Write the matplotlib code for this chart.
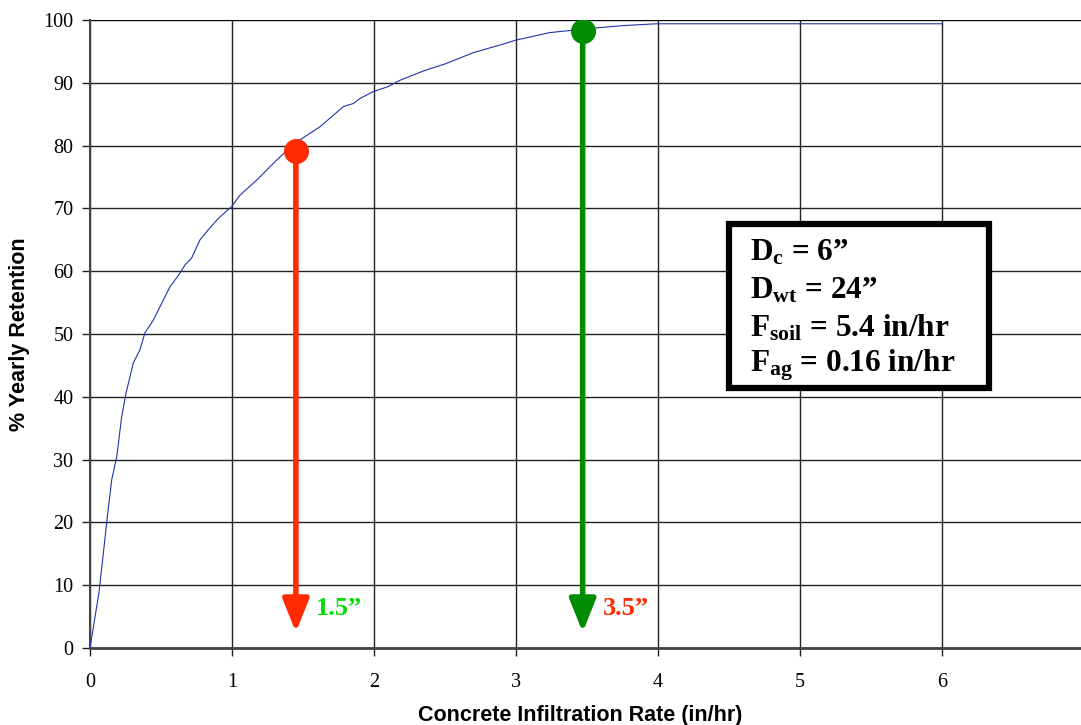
import matplotlib
matplotlib.use("Agg")
import matplotlib.pyplot as plt
from matplotlib.patches import Rectangle

# curve (x = infiltration rate in/hr, y = % retention)
rate = [0, 0.035, 0.063, 0.094, 0.122, 0.153, 0.188, 0.223, 0.254, 0.305, 0.352,
        0.387, 0.446, 0.516, 0.563, 0.634, 0.669, 0.716, 0.775, 0.833, 0.904,
        0.998, 1.056, 1.174, 1.315, 1.444, 1.620, 1.784, 1.854, 1.901, 1.995,
        2.10, 2.183, 2.35, 2.5, 2.7, 2.9, 3.0, 3.24, 3.5, 3.75, 3.99, 5.0, 6.0]
retention = [0, 4.9, 8.8, 15.1, 20.9, 26.8, 30.4, 36.8, 40.6, 45.4, 47.5,
             50.2, 52.2, 55.4, 57.5, 59.7, 61.0, 62.1, 65.0, 66.6, 68.4,
             70.3, 72.1, 74.5, 77.7, 80.4, 83.0, 86.2, 86.7, 87.5, 88.6,
             89.4, 90.4, 91.9, 93.0, 94.8, 96.1, 96.8, 98.0, 98.6, 99.1, 99.4, 99.4, 99.4]

# highlighted points and their labels
pick_x = [1.45, 3.47]
pick_y = [79.1, 98.2]
pick_labels = ["1.5\u201d", "3.5\u201d"]
pick_colors = ["#ff2a00", "#008c00"]
label_colors = ["#00e000", "#ff2a00"]

x_ticks = [0, 1, 2, 3, 4, 5, 6]
y_ticks = list(range(0, 101, 10))

box_lines = ["D$_\\mathrm{c}$ = 6\u201d", "D$_\\mathrm{wt}$ = 24\u201d",
             "F$_\\mathrm{soil}$ = 5.4 in/hr", "F$_\\mathrm{ag}$ = 0.16 in/hr"]

plt.rcParams['mathtext.fontset'] = 'custom'
plt.rcParams['mathtext.rm'] = 'Liberation Serif:bold'
plt.rcParams['mathtext.it'] = 'Liberation Serif:bold'
plt.rcParams['mathtext.bf'] = 'Liberation Serif:bold'

fig = plt.figure(figsize=(10.81, 7.25), dpi=100)
ax = fig.add_axes([90 / 1081, 1 - 648 / 725, 1 - 90 / 1081, (648 - 20) / 725])

ax.plot(rate, retention, color="#2233aa", lw=0.8, zorder=3)

for x, y, lab, c, lc in zip(pick_x, pick_y, pick_labels, pick_colors, label_colors):
    ax.annotate("", xy=(x, 2.5), xytext=(x, y),
                arrowprops=dict(arrowstyle="-|>,head_length=1.0,head_width=0.4",
                                color=c, lw=4, mutation_scale=20,
                                shrinkA=0, shrinkB=0), zorder=4)
    ax.plot(x, y, "o", color=c, ms=17, zorder=5)
    ax.text(x + 0.14, 6.3, lab, color=lc, fontsize=19, fontweight="bold",
            family="Liberation Serif", va="center", ha="left", zorder=5)

ax.set_xlim(0, 6.98)
ax.set_ylim(0, 100)
ax.set_xticks(x_ticks)
ax.set_yticks(y_ticks)
ax.grid(True, color="#222222", lw=1)
ax.set_axisbelow(True)
for s in ["top", "right"]:
    ax.spines[s].set_visible(False)
ax.spines["left"].set_color("#444444")
ax.spines["left"].set_linewidth(1.5)
ax.spines["bottom"].set_color("#444444")
ax.spines["bottom"].set_linewidth(2)
ax.axhline(100, color="black", lw=1.2, zorder=2)

ax.tick_params(axis="both", direction="out", length=6, width=1, color="#222222",
               labelsize=14.5, pad=6)
for lbl in ax.get_xticklabels() + ax.get_yticklabels():
    lbl.set_family("Liberation Serif")
ax.tick_params(axis="x", pad=12)

ax.set_xlabel("Concrete Infiltration Rate (in/hr)", fontsize=15.5, fontweight="bold",
              family="Liberation Sans")
ax.set_ylabel("% Yearly Retention", fontsize=15.5, fontweight="bold",
              family="Liberation Sans")
ax.xaxis.set_label_coords(0.5 - 5 / 991, -67 / 628)
ax.yaxis.set_label_coords(-70 / 991, 0.5)
ax.xaxis.label.set_va("center")
ax.yaxis.label.set_va("center")

# parameter box
box = Rectangle((729 / 1081, 1 - 388 / 725), (989 - 729) / 1081, (388 - 224) / 725,
                transform=fig.transFigure, facecolor="white", edgecolor="black",
                lw=4.5, zorder=6)
fig.patches.append(box)
for i, s in enumerate(box_lines):
    fig.text(750 / 1081, 1 - (253 + i * 37.5) / 725, s, fontsize=22.5,
             fontweight="bold", family="Liberation Serif", va="center",
             ha="left", zorder=7)

fig.savefig("out.png", dpi=100)
